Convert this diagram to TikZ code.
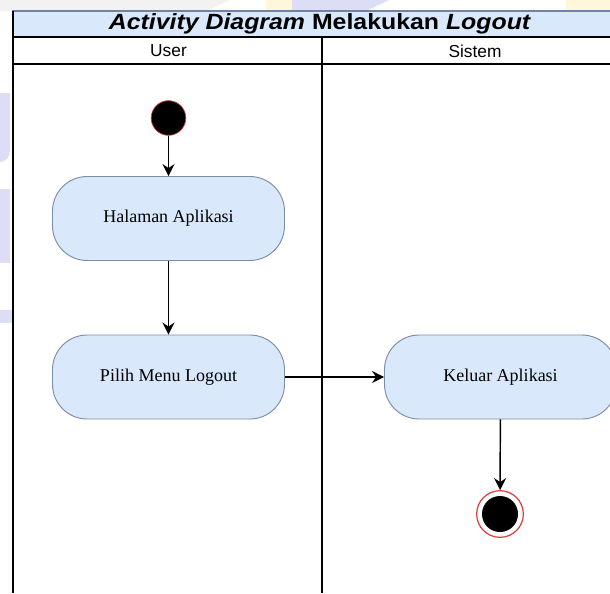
\documentclass[tikz,border=0pt]{standalone}
\usepackage{fontspec}
\setmainfont{Liberation Serif}
\newfontfamily\titlefont[FakeStretch=1.13]{Liberation Sans}
\newfontfamily\lanefont{Liberation Sans}
\usetikzlibrary{arrows.meta}
\definecolor{actfill}{HTML}{DAE8FC}
\definecolor{actdraw}{HTML}{7E8DA6}
\definecolor{barline}{HTML}{6F83A3}
\definecolor{markred}{HTML}{E03A3A}
\definecolor{wmblue}{HTML}{DDDDF6}
\definecolor{wmyellow}{HTML}{FFF7D9}
\definecolor{wmgray}{HTML}{F2F2F2}
\tikzset{
  activity/.style={rectangle,rounded corners=26pt,draw=actdraw,fill=actfill,line width=0.7pt,minimum width=174pt,minimum height=63pt,inner sep=0pt,font=\fontsize{13.5}{16}\selectfont},
  startstate/.style={circle,fill=black,draw=markred,line width=0.5pt,minimum size=26pt,inner sep=0pt},
  endstate/.style={circle,fill=white,draw=markred,line width=0.9pt,minimum size=35pt,inner sep=0pt},
  endcore/.style={circle,fill=black,minimum size=27pt,inner sep=0pt},
  lanelabel/.style={font=\lanefont\fontsize{13}{15}\selectfont},
  flow/.style={-{Stealth[length=9pt,width=9pt,inset=3pt]},line width=1.1pt},
}
\begin{document}
\begin{tikzpicture}[x=0.75pt,y=-0.75pt]
\clip (0,0) rectangle (610,593);
% Set background marks
\fill[wmgray] (0,0) -- (230,0) -- (206,11) -- (0,11) -- cycle;
\fill[wmyellow] (266,0) rectangle (292,11);
\fill[wmblue] (292,0) -- (389,0) -- (366,11) -- (292,11) -- cycle;
\fill[wmyellow] (566,0) rectangle (610,11);
\fill[wmblue] (0,93) -- (10,93) -- (10,150) to[out=-90,in=0] (0,162) -- cycle;
\fill[wmblue] (0,189) rectangle (10,263);
\fill[wmblue] (0,310) rectangle (13,323);
% Set pool and lanes
\fill[white] (13,11) rectangle (631,593);
\filldraw[fill=actfill,draw=barline,line width=0.8pt] (13,11) rectangle (631,37);
\draw[line width=1pt] (13,37) -- (631,37);
\draw[line width=1pt] (13,64) -- (631,64);
\draw[line width=1pt] (13,11) -- (13,593);
\draw[line width=1pt] (322,37) -- (322,593);
% Set titles
\draw (320,24) node(judul)[font=\titlefont\bfseries\fontsize{16.5}{19}\selectfont] {\textit{Activity Diagram} Melakukan \textit{Logout}};
\draw (168.5,51) node(user)[lanelabel] {User};
\draw (475,51) node(sistem)[lanelabel] {Sistem};
% Set lane User
\draw (168.5,118) node(mulai)[startstate] {};
\draw (168.5,218.5) node(halaman)[activity] {Halaman Aplikasi};
\draw (168.5,377) node(pilih)[activity] {Pilih Menu Logout};
% Set lane Sistem
\draw (500.5,377) node(keluar)[activity] {Keluar Aplikasi};
\draw (500,514) node(selesai)[endstate] {};
\draw (500,514) node(selesaiinti)[endcore] {};
% Arrows
\draw[flow] (mulai) -- (halaman);
\draw[flow] (halaman) -- (pilih);
\draw[flow] (pilih) -- (keluar);
\draw[flow] (keluar) -- (selesai);
\end{tikzpicture}
\end{document}
